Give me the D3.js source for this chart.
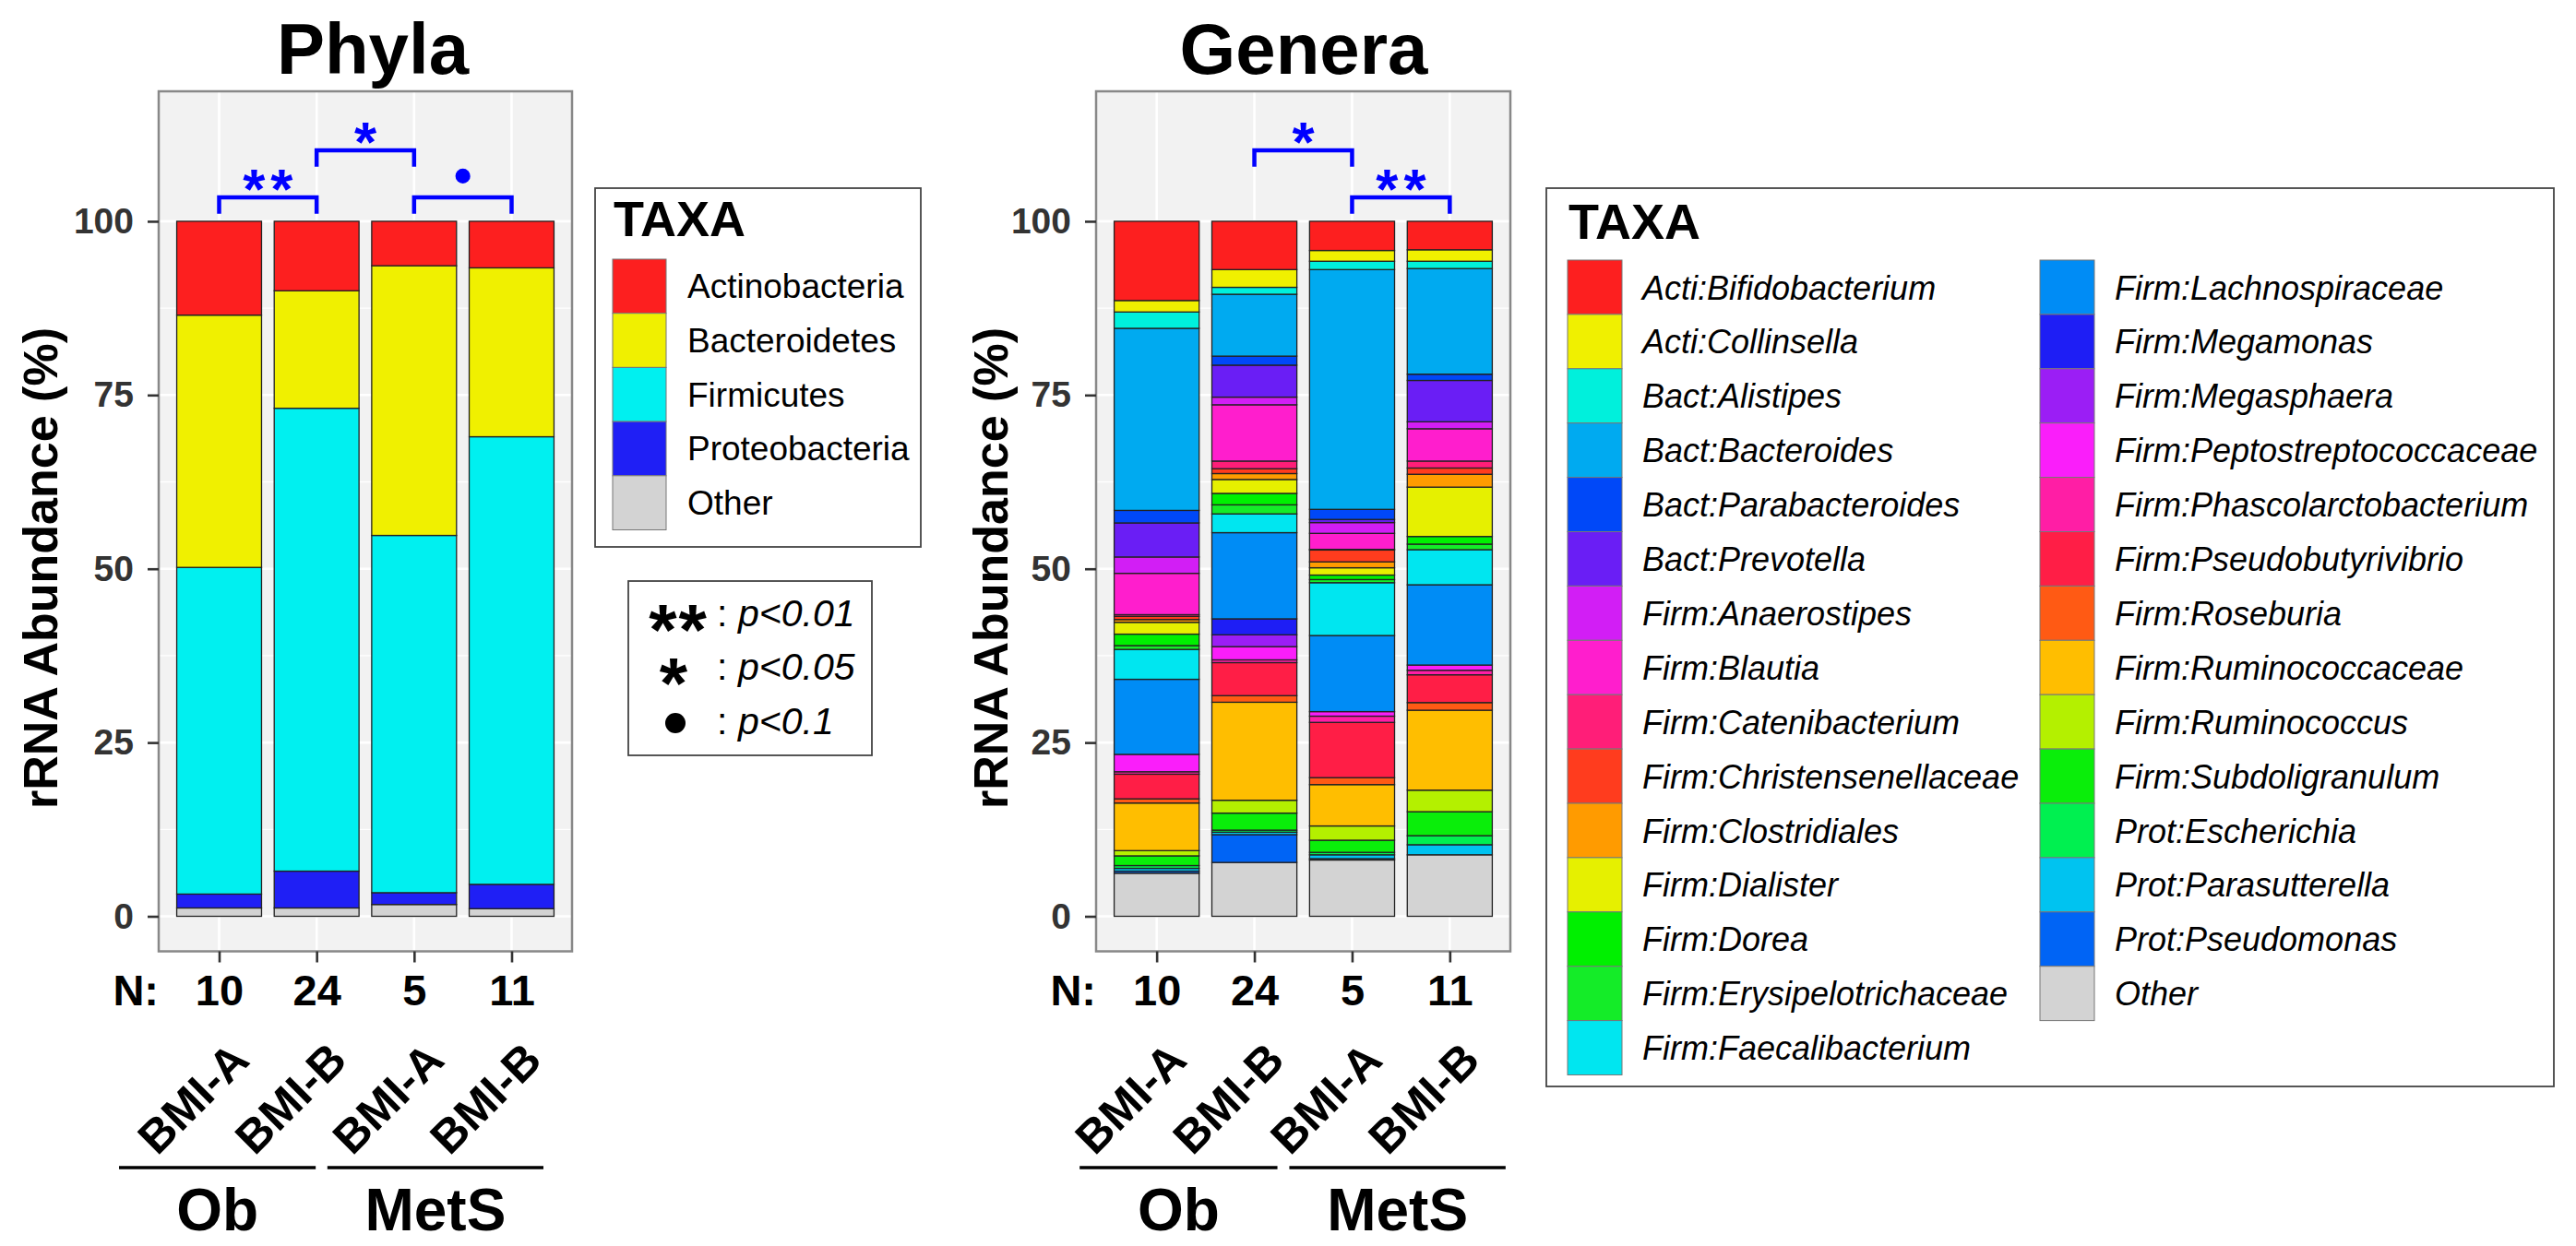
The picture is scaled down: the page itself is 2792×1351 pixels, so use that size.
<!DOCTYPE html>
<html>
<head>
<meta charset="utf-8">
<script src="https://cdn.jsdelivr.net/npm/d3@7"></script>
<style>
  body { margin: 0; background: #fff; }
  svg { display: block; font-family: "Liberation Sans", Arial, Helvetica, sans-serif; }
</style>
</head>
<body>
<script>
// ---- data ----
const groups = ["BMI-A", "BMI-B", "BMI-A", "BMI-B"];
const sampleSizes = [10, 24, 5, 11];
const cohorts = ["Ob", "MetS"];
const cohortBars = [[0, 1], [2, 3]];
const yTicks = [0, 25, 50, 75, 100];
const yMinor = [12.5, 37.5, 62.5, 87.5];

const phylaTaxa = ["Actinobacteria", "Bacteroidetes", "Firmicutes", "Proteobacteria", "Other"];
const phylaColors = ["#fd1f1f", "#f0f000", "#00f0f0", "#1f1ff5", "#d3d3d3"];
const phylaValues = [
    [13.5, 10.0, 6.4, 6.7],
    [36.3, 16.9, 38.8, 24.3],
    [47.0, 66.6, 51.4, 64.4],
    [2.0, 5.3, 1.7, 3.5],
    [1.2, 1.2, 1.7, 1.1]
];

const generaTaxa = [
    "Acti:Bifidobacterium", "Acti:Collinsella", "Bact:Alistipes", "Bact:Bacteroides",
    "Bact:Parabacteroides", "Bact:Prevotella", "Firm:Anaerostipes", "Firm:Blautia",
    "Firm:Catenibacterium", "Firm:Christensenellaceae", "Firm:Clostridiales", "Firm:Dialister",
    "Firm:Dorea", "Firm:Erysipelotrichaceae", "Firm:Faecalibacterium", "Firm:Lachnospiraceae",
    "Firm:Megamonas", "Firm:Megasphaera", "Firm:Peptostreptococcaceae", "Firm:Phascolarctobacterium",
    "Firm:Pseudobutyrivibrio", "Firm:Roseburia", "Firm:Ruminococcaceae", "Firm:Ruminococcus",
    "Firm:Subdoligranulum", "Prot:Escherichia", "Prot:Parasutterella", "Prot:Pseudomonas", "Other"
];
const generaColors = [
    "#fd1f1f", "#f0f000", "#00f0dc", "#00aaf0",
    "#0048f8", "#6a1ef5", "#d21ef5", "#ff1ecd",
    "#ff1e78", "#ff3c1e", "#ff9b00", "#e6f000",
    "#00f000", "#14ec28", "#00e6f0", "#008cf5",
    "#1e1ef5", "#9b1ef5", "#fa1efa", "#ff1ea5",
    "#ff1e46", "#ff5a14", "#ffbe00", "#b4f000",
    "#0aee0a", "#00f050", "#00c3f0", "#0064f5", "#d3d3d3"
];
const generaValues = [
    [11.4, 6.95, 4.2, 4.1],
    [1.65, 2.55, 1.55, 1.65],
    [2.35, 1.0, 1.2, 1.05],
    [26.2, 8.9, 34.5, 15.2],
    [1.8, 1.3, 1.45, 0.9],
    [4.9, 4.6, 0.45, 5.95],
    [2.35, 1.1, 1.55, 1.0],
    [5.95, 8.1, 2.3, 4.65],
    [0.25, 1.1, 0.1, 1.0],
    [0.45, 0.7, 1.7, 0.9],
    [0.4, 0.85, 0.85, 1.85],
    [1.7, 2.0, 1.05, 7.1],
    [1.65, 1.65, 0.65, 1.1],
    [0.55, 1.3, 0.45, 0.8],
    [4.3, 2.7, 7.6, 5.05],
    [10.8, 12.4, 10.95, 11.55],
    [0, 2.3, 0, 0],
    [0, 1.7, 0, 0],
    [2.5, 1.9, 0.65, 0.75],
    [0.35, 0.4, 0.9, 0.65],
    [3.55, 4.75, 7.95, 4.0],
    [0.6, 0.95, 1.0, 1.1],
    [6.85, 14.1, 5.95, 11.5],
    [0.75, 1.85, 2.05, 3.1],
    [1.4, 2.45, 1.75, 3.45],
    [0.4, 0.3, 0.35, 1.3],
    [0.4, 0.35, 0.55, 1.45],
    [0.3, 4.0, 0.2, 0],
    [6.2, 7.75, 8.1, 8.85]
];

// significance brackets: bar a to bar b, bracket height in % units
const phylaSig = [
    { a: 0, b: 1, y: 103.45, label: "**" },
    { a: 1, b: 2, y: 110.2, label: "*" },
    { a: 2, b: 3, y: 103.45, label: "•" }
];
const generaSig = [
    { a: 1, b: 2, y: 110.2, label: "*" },
    { a: 2, b: 3, y: 103.45, label: "**" }
];
const sigLegend = [
    { sym: "**", text: "p<0.01" },
    { sym: "*", text: "p<0.05" },
    { sym: "•", text: "p<0.1" }
];

// ---- drawing ----
const width = 2792;
const height = 1351;

const svg = d3.create("svg")
    .attr("width", width)
    .attr("height", height)
    .attr("viewBox", `0 0 ${width} ${height}`);

svg.append("rect").attr("width", width).attr("height", height).attr("fill", "#fff");

const y = d3.scaleLinear()
    .domain([-5.04, 118.7])
    .range([1031.5, 99]);

function drawStars(g, label, cx, cy, fs, spacing, fill) {
    if (label === "•") {
        g.append("circle").attr("cx", cx).attr("cy", cy).attr("r", fs * 0.13).attr("fill", fill);
        return;
    }
    g.append("text")
        .attr("x", cx)
        .attr("y", cy + fs * 0.56)
        .attr("text-anchor", "middle")
        .attr("font-size", fs)
        .attr("font-weight", "bold")
        .attr("letter-spacing", label.length > 1 ? spacing : 0)
        .attr("dx", label.length > 1 ? spacing / 2 : 0)
        .attr("fill", fill)
        .text(label);
}

function drawPanel(cfg) {
    const g = svg.append("g");
    const x = d3.scaleLinear()
        .domain([-0.62, 3.62])
        .range([cfg.left, cfg.right]);
    const step = x(1) - x(0);
    const barW = step * 0.87;

    // panel background + grid
    g.append("rect")
        .attr("x", cfg.left).attr("y", y.range()[1])
        .attr("width", cfg.right - cfg.left)
        .attr("height", y.range()[0] - y.range()[1])
        .attr("fill", "#f2f2f2");

    g.selectAll(".minor").data(yMinor).join("line")
        .attr("x1", cfg.left).attr("x2", cfg.right)
        .attr("y1", d => y(d)).attr("y2", d => y(d))
        .attr("stroke", "#fff").attr("stroke-width", 1.3);
    g.selectAll(".major").data(yTicks).join("line")
        .attr("x1", cfg.left).attr("x2", cfg.right)
        .attr("y1", d => y(d)).attr("y2", d => y(d))
        .attr("stroke", "#fff").attr("stroke-width", 2.6);
    g.selectAll(".vmajor").data(groups).join("line")
        .attr("x1", (d, i) => x(i)).attr("x2", (d, i) => x(i))
        .attr("y1", y.range()[1]).attr("y2", y.range()[0])
        .attr("stroke", "#fff").attr("stroke-width", 2.6);

    // stacked bars (first taxon on top)
    const rows = groups.map((grp, i) => {
        const r = { bar: i };
        cfg.taxa.forEach((t, k) => r[t] = cfg.values[k][i]);
        return r;
    });
    const series = d3.stack().keys(cfg.taxa.slice().reverse())(rows);
    const colorOf = d3.scaleOrdinal().domain(cfg.taxa).range(cfg.colors);

    g.selectAll(".layer").data(series).join("g")
        .attr("fill", d => colorOf(d.key))
        .selectAll("rect")
        .data(d => d.filter(s => s[1] - s[0] > 0))
        .join("rect")
        .attr("x", d => x(d.data.bar) - barW / 2)
        .attr("y", d => y(d[1]))
        .attr("width", barW)
        .attr("height", d => y(d[0]) - y(d[1]))
        .attr("stroke", "#222")
        .attr("stroke-width", 1.3);

    // panel border
    g.append("rect")
        .attr("x", cfg.left).attr("y", y.range()[1])
        .attr("width", cfg.right - cfg.left)
        .attr("height", y.range()[0] - y.range()[1])
        .attr("fill", "none").attr("stroke", "#888").attr("stroke-width", 2.5);

    // significance brackets
    const legDrop = 2.35;
    cfg.sig.forEach(s => {
        const x1 = x(s.a), x2 = x(s.b);
        g.append("path")
            .attr("d", `M${x1},${y(s.y - legDrop)}V${y(s.y)}H${x2}V${y(s.y - legDrop)}`)
            .attr("fill", "none").attr("stroke", "#0000ff").attr("stroke-width", 4.5);
        drawStars(g, s.label, (x1 + x2) / 2, y(s.y) - 23, 62, 6, "#0000ff");
    });

    // y axis
    const yAxis = g.append("g")
        .attr("transform", `translate(${cfg.left},0)`)
        .call(d3.axisLeft(y).tickValues(yTicks).tickSize(12).tickPadding(15));
    yAxis.select(".domain").remove();
    yAxis.selectAll("line").attr("stroke", "#333").attr("stroke-width", 2.6);
    yAxis.selectAll("text")
        .attr("fill", "#333").attr("font-size", 39).attr("font-weight", "bold")
        .attr("font-family", "Liberation Sans, Arial, sans-serif");

    // x axis with sample sizes
    const xAxis = g.append("g")
        .attr("transform", `translate(0,${y.range()[0]})`)
        .call(d3.axisBottom(x).tickValues([0, 1, 2, 3]).tickSize(12).tickPadding(13)
            .tickFormat(i => sampleSizes[i]));
    xAxis.select(".domain").remove();
    xAxis.selectAll("line").attr("stroke", "#333").attr("stroke-width", 2.6);
    xAxis.selectAll("text")
        .attr("fill", "#000").attr("font-size", 47).attr("font-weight", "bold")
        .attr("font-family", "Liberation Sans, Arial, sans-serif");

    g.append("text")
        .attr("x", cfg.left).attr("y", 1090)
        .attr("text-anchor", "end")
        .attr("font-size", 47).attr("font-weight", "bold")
        .text("N:");

    // rotated group labels
    g.selectAll(".grp").data(groups).join("text")
        .attr("transform", (d, i) => `translate(${x(i) + 35},1152) rotate(-45)`)
        .attr("text-anchor", "end")
        .attr("font-size", 50).attr("font-weight", "bold")
        .text(d => d);

    // cohort lines and labels
    cohorts.forEach((c, j) => {
        const bars = cohortBars[j];
        const x1 = x(bars[0]) + cfg.cohortPad[j][0];
        const x2 = x(bars[bars.length - 1]) + cfg.cohortPad[j][1];
        g.append("line")
            .attr("x1", x1).attr("x2", x2)
            .attr("y1", 1266).attr("y2", 1266)
            .attr("stroke", "#000").attr("stroke-width", 3.5);
        g.append("text")
            .attr("x", (x1 + x2) / 2).attr("y", 1334)
            .attr("text-anchor", "middle")
            .attr("font-size", 64).attr("font-weight", "bold")
            .text(c);
    });

    // y label
    g.append("text")
        .attr("transform", `translate(${cfg.ylabX},616) rotate(-90)`)
        .attr("text-anchor", "middle")
        .attr("font-size", 52).attr("font-weight", "bold")
        .text("rRNA Abundance (%)");

    // title
    g.append("text")
        .attr("x", cfg.titleX).attr("y", 80)
        .attr("text-anchor", "middle")
        .attr("font-size", 78).attr("font-weight", "bold")
        .text(cfg.title);
}

drawPanel({
    title: "Phyla", titleX: 404, left: 172, right: 620, ylabX: 62,
    taxa: phylaTaxa, colors: phylaColors, values: phylaValues, sig: phylaSig,
    cohortPad: [[-108.5, -1], [-94, 34.5]]
});
drawPanel({
    title: "Genera", titleX: 1413, left: 1188, right: 1637, ylabX: 1092,
    taxa: generaTaxa, colors: generaColors, values: generaValues, sig: generaSig,
    cohortPad: [[-83.5, 25], [-68, 60.5]]
});

// ---- phyla legend ----
const leg1 = svg.append("g");
leg1.append("rect")
    .attr("x", 645).attr("y", 204).attr("width", 353).attr("height", 389)
    .attr("fill", "#fff").attr("stroke", "#444").attr("stroke-width", 1.8);
leg1.append("text")
    .attr("x", 665).attr("y", 256)
    .attr("font-size", 54).attr("font-weight", "bold")
    .text("TAXA");
phylaTaxa.forEach((t, i) => {
    const ky = 281 + i * 58.7;
    leg1.append("rect")
        .attr("x", 664).attr("y", ky).attr("width", 58).attr("height", 58.7)
        .attr("fill", phylaColors[i]).attr("stroke", "#777").attr("stroke-width", 1);
    leg1.append("text")
        .attr("x", 745).attr("y", ky + 29.3 + 13)
        .attr("font-size", 37)
        .text(t);
});

// ---- significance legend ----
const leg2 = svg.append("g");
leg2.append("rect")
    .attr("x", 681).attr("y", 630).attr("width", 264).attr("height", 189)
    .attr("fill", "#fff").attr("stroke", "#444").attr("stroke-width", 1.8);
const sigRowY = [679, 737, 796];
const sigSymX = [734.5, 730, 732];
sigLegend.forEach((r, i) => {
    const by = sigRowY[i];
    if (r.sym === "•") {
        leg2.append("circle").attr("cx", sigSymX[i]).attr("cy", by - 12).attr("r", 11).attr("fill", "#000");
    } else {
        drawStars(leg2, r.sym, sigSymX[i], by - 13, 78, 2, "#000");
    }
    leg2.append("text")
        .attr("x", 777).attr("y", by)
        .attr("font-size", 41)
        .text(":");
    leg2.append("text")
        .attr("x", 800).attr("y", by)
        .attr("font-size", 41).attr("font-style", "italic")
        .text(r.text);
});

// ---- genera legend ----
const leg3 = svg.append("g");
leg3.append("rect")
    .attr("x", 1676).attr("y", 204).attr("width", 1092).attr("height", 974)
    .attr("fill", "#fff").attr("stroke", "#444").attr("stroke-width", 1.8);
leg3.append("text")
    .attr("x", 1700).attr("y", 259)
    .attr("font-size", 54).attr("font-weight", "bold")
    .text("TAXA");
const perCol = 15;
generaTaxa.forEach((t, i) => {
    const col = Math.floor(i / perCol);
    const row = i % perCol;
    const kx = col === 0 ? 1699 : 2211;
    const ky = 282 + row * 58.9;
    leg3.append("rect")
        .attr("x", kx).attr("y", ky).attr("width", 59).attr("height", 58.9)
        .attr("fill", generaColors[i]).attr("stroke", "#777").attr("stroke-width", 1);
    leg3.append("text")
        .attr("x", kx + 81).attr("y", ky + 29.5 + 13)
        .attr("font-size", 36).attr("font-style", "italic")
        .text(t);
});

document.body.appendChild(svg.node());
</script>
</body>
</html>
